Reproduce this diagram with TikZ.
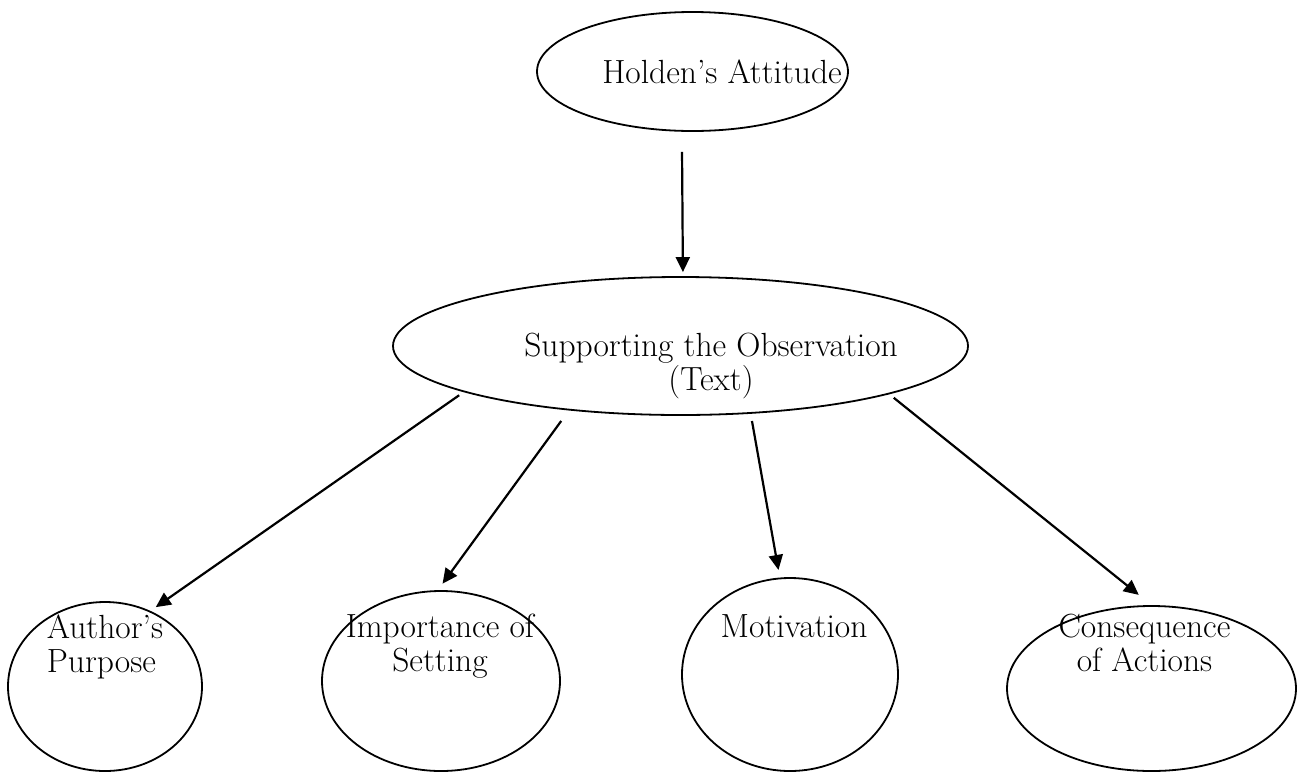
\documentclass[tikz,border=0pt]{standalone}
\usetikzlibrary{shapes.geometric,arrows.meta}
\begin{document}
\begin{tikzpicture}[x=1pt,y=-1pt,
  oval/.style={draw, ellipse, line width=1.8pt, inner sep=0pt},
  txt/.style={font=\fontsize{33.5}{34}\selectfont, inner sep=0pt},
  conn/.style={line width=2.2pt, -{Triangle[length=15pt,width=14pt]}}]
\useasboundingbox (0,0) rectangle (1299,772);
\node[oval, minimum width=311pt, minimum height=119pt,
  label={[txt, xshift=29.5pt, yshift=0pt]center:Holden’s Attitude}] (top) at (692.5,71.5) {};
\node[oval, minimum width=575pt, minimum height=138pt,
  label={[txt, align=center, xshift=30.5pt, yshift=-20.4pt]center:{Supporting the Observation\\(Text)}}] (mid) at (680.5,346) {};
\node[oval, minimum width=194pt, minimum height=169pt,
  label={[txt, align=left, xshift=0pt, yshift=39.9pt]center:{Author’s\\Purpose}}] (author) at (105,686.5) {};
\node[oval, minimum width=238pt, minimum height=180pt,
  label={[txt, align=center, xshift=-1pt, yshift=34.5pt]center:{Importance of\\Setting}}] (setting) at (441,681) {};
\node[oval, minimum width=216pt, minimum height=193pt,
  label={[txt, xshift=4pt, yshift=47.9pt]center:Motivation}] (motiv) at (790,674.5) {};
\node[oval, minimum width=289pt, minimum height=165pt,
  label={[txt, align=center, xshift=-7pt, yshift=45.3pt]center:{Consequence\\of Actions}}] (conseq) at (1151.5,688.5) {};
\draw[conn, shorten <=20pt, shorten >=4pt] (top.260) -- (mid.88.75);
\draw[conn, shorten <=5.5pt, shorten >=6.5pt] (mid.192.8) -- (author.59.8);
\draw[conn, shorten <=13pt, shorten >=8pt] (mid.210) -- (setting.92.7);
\draw[conn, shorten <=7.3pt, shorten >=7.7pt] (mid.316.8) -- (motiv.96.9);
\draw[conn, shorten <=5.7pt, shorten >=16.3pt] (mid.347.5) -- (conseq.90.8);
\end{tikzpicture}
\end{document}
